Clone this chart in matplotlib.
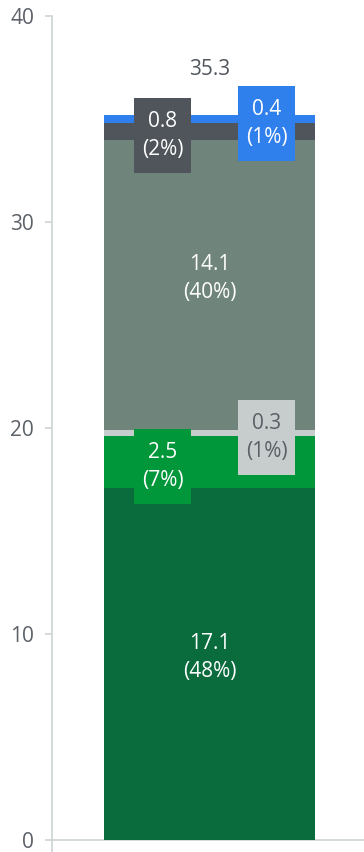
import matplotlib.pyplot as plt
from matplotlib.patches import Rectangle

plt.rcParams['font.family'] = ['Open Sans', 'DejaVu Sans']

# stacked segments, bottom to top
values = [17.1, 2.5, 0.3, 14.1, 0.8, 0.4]
shares = ["48%", "7%", "1%", "40%", "2%", "1%"]
colors = ["#0a6b3c", "#00963a", "#c6cdcc", "#6f857b", "#4f555b", "#2f80ed"]
text_colors = ["white", "white", "#5a6066", "white", "white", "white"]
# where the label sits: 0 = inside bar, -1 = boxed left, 1 = boxed right
label_pos = [0, -1, 1, 0, -1, 1]
total = 35.3

fig = plt.figure(figsize=(3.64, 8.52), dpi=100)
ax = fig.add_axes([52 / 364, 0, 1 - 52 / 364, 1 - 16 / 852])

px_per_unit = 824 / 40
ax.set_ylim(-12 / px_per_unit, 40)
ax.set_xlim(-52 / 211, 260 / 211)

bottom = 0
for v, c in zip(values, colors):
    ax.bar(0.5, v, width=1.0, bottom=bottom, color=c, linewidth=0, zorder=2)
    bottom += v

box_w = 57 / 211
box_h = 75 / px_per_unit
fs = 15
bottom = 0
for v, s, c, tc, pos in zip(values, shares, colors, text_colors, label_pos):
    mid = bottom + v / 2
    label = f"{v}\n({s})"
    if pos == 0:
        ax.text(0.5, mid + 0.3, label, ha="center", va="center", color=tc,
                fontsize=fs, linespacing=1.45, zorder=4)
    else:
        cx = 0.277 if pos < 0 else 0.770
        cy = mid - 0.2
        ax.add_patch(Rectangle((cx - box_w / 2, cy - box_h / 2), box_w, box_h,
                               facecolor=c, edgecolor="none", zorder=3))
        ax.text(cx, cy, label, ha="center", va="center", color=tc,
                fontsize=fs, linespacing=1.45, zorder=4)
    bottom += v

ax.text(0.5, total + 2.1, f"{total}", ha="center", va="center",
        color="#50565c", fontsize=fs)

grid_col = "#cdd4d3"
ax.axhline(0, color=grid_col, linewidth=1.2, zorder=1)
for side in ["top", "right", "bottom"]:
    ax.spines[side].set_visible(False)
ax.spines["left"].set_color(grid_col)
ax.spines["left"].set_linewidth(1.2)
ax.set_yticks([0, 10, 20, 30, 40])
ax.tick_params(axis="y", length=5, width=1.2, color=grid_col,
               labelcolor="#5c6268", labelsize=15, pad=8)
ax.set_xticks([])

fig.savefig("out.png", dpi=100)
